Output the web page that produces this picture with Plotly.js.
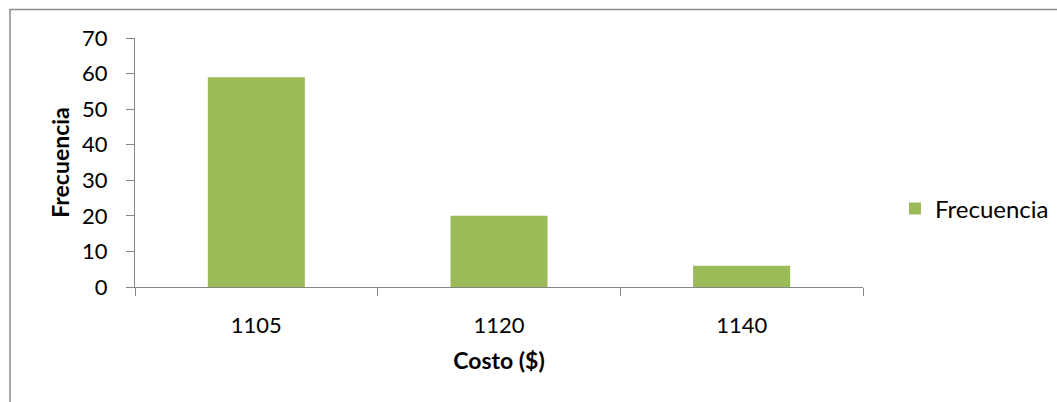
<!DOCTYPE html>
<html>
<head>
<meta charset="utf-8">
<script src="https://cdn.plot.ly/plotly-3.0.1.min.js"></script>
<style>html,body{margin:0;padding:0;background:#fff;}#chart{width:1057px;height:402px;}</style>
</head>
<body>
<div id="chart"></div>
<script>
const categories = ["1105", "1120", "1140"];
const frecuencia = [59, 20, 6];
const seriesName = "Frecuencia";
const yTicks = [0, 10, 20, 30, 40, 50, 60, 70];

const L = 135, R = 863, T = 38, B = 287, W = 1057, H = 402;
const px = x => (x - L) / (R - L);
const py = y => (B - y) / (B - T);

const trace = {
  type: 'bar',
  x: categories,
  y: frecuencia,
  name: seriesName,
  marker: {color: '#9BBB59'},
  showlegend: true
};

const layout = {
  width: W, height: H,
  margin: {l: L, r: W - R, t: T, b: H - B, pad: 0, autoexpand: false},
  paper_bgcolor: '#fff', plot_bgcolor: '#fff',
  font: {family: 'Lato, "Open Sans", sans-serif', size: 22, color: '#000'},
  bargap: 0.6,
  showlegend: true,
  legend: {x: px(895), y: py(209), xanchor: 'left', yanchor: 'middle', font: {size: 24}, itemwidth: 30, bgcolor: 'rgba(0,0,0,0)'},
  xaxis: {
    type: 'category',
    showline: true, linecolor: '#868686', linewidth: 1,
    ticks: 'outside', tickson: 'boundaries', ticklen: 8, tickcolor: '#868686',
    ticklabelstandoff: 19,
    showgrid: false, zeroline: false,
    title: {text: '<b>Costo ($)</b>', font: {size: 23}, standoff: 15}
  },
  yaxis: {
    range: [0, 70], tickvals: yTicks,
    showline: true, linecolor: '#868686', linewidth: 1,
    ticks: 'outside', ticklen: 8, tickcolor: '#868686',
    ticklabelstandoff: 14,
    showgrid: false, zeroline: false,
    title: {text: '<b>Frecuencia</b>', font: {size: 23}, standoff: 6}
  },
  shapes: [{
    type: 'path', xref: 'paper', yref: 'paper',
    path: `M ${px(10)} ${py(410)} L ${px(10)} ${py(9.5)} L ${px(1065)} ${py(9.5)}`,
    line: {color: '#8a8a8a', width: 1.5}
  }]
};

Plotly.newPlot('chart', [trace], layout, {displayModeBar: false, staticPlot: true});
</script>
</body>
</html>
